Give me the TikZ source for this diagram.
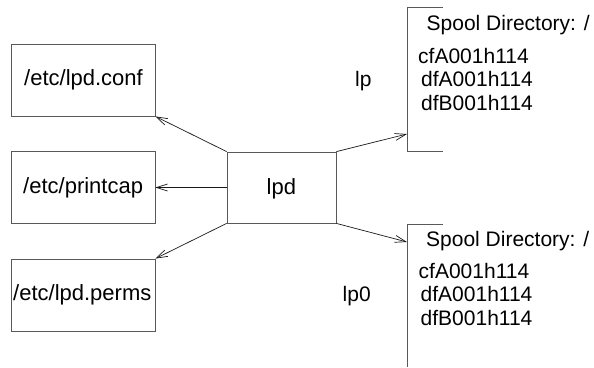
\documentclass[tikz,border=0pt]{standalone}
\usepackage{fontspec}
\setmainfont{Liberation Sans}
\usetikzlibrary{arrows.meta}
\begin{document}
\begin{tikzpicture}[x=1pt,y=-1pt,
  every node/.style={font=\fontsize{21}{25}\selectfont},
  filebox/.style={draw=black!65,line width=0.8pt,minimum width=144pt,minimum height=72pt,inner sep=0pt},
  txt/.style={inner sep=0pt,anchor=base west},
  bigtxt/.style={txt,font=\fontsize{22}{26}\selectfont},
  conn/.style={draw=black!90,line width=0.7pt,-{Straight Barb[length=11pt,width=7pt]}},
  spool/.style={draw=black!65,line width=0.8pt}]
\useasboundingbox (0,0) rectangle (594,367);
% left boxes
\node[filebox] (conf) at (83,80) {};
\node[bigtxt] (conft) at (24,85) {/etc/lpd.conf};
\node[filebox] (pcap) at (83,187.5) {};
\node[bigtxt] (pcapt) at (23,193) {/etc/printcap};
\node[filebox] (perms) at (83,295) {};
\node[bigtxt] (permst) at (13,300) {/etc/lpd.perms};
% lpd
\node[draw=black!65,line width=0.8pt,minimum width=109pt,minimum height=71pt,inner sep=0pt] (lpd) at (281.5,187.5) {};
\node[bigtxt] (lpdt) at (266.5,194) {lpd};
% spool brackets
\draw[spool] (443,7) -- (407,7) -- (407,151) -- (443,151);
\draw[spool] (443,224) -- (407,224) -- (407,367);
\coordinate (sp1) at (407,134);
\coordinate (sp2) at (407,242);
\node[txt] (s1h) at (426.5,30) {Spool Directory: /};
\node[txt] (s1a) at (418,63) {cfA001h114};
\node[txt] (s1b) at (421,86.5) {dfA001h114};
\node[txt] (s1c) at (421,110) {dfB001h114};
\node[txt] (s2h) at (426,246.5) {Spool Directory: /};
\node[txt] (s2a) at (418.5,278) {cfA001h114};
\node[txt] (s2b) at (420.5,301.5) {dfA001h114};
\node[txt] (s2c) at (420.5,325) {dfB001h114};
\node[txt] (lp) at (355,86) {lp};
\node[txt] (lp0) at (342.5,301) {lp0};
% connectors
\draw[conn] (lpd.north west) -- (conf.south east);
\draw[conn] (lpd.west) -- (pcap.east);
\draw[conn] (lpd.south west) -- (perms.north east);
\draw[conn] (lpd.north east) -- (sp1);
\draw[conn] (lpd.south east) -- (sp2);
\end{tikzpicture}
\end{document}
